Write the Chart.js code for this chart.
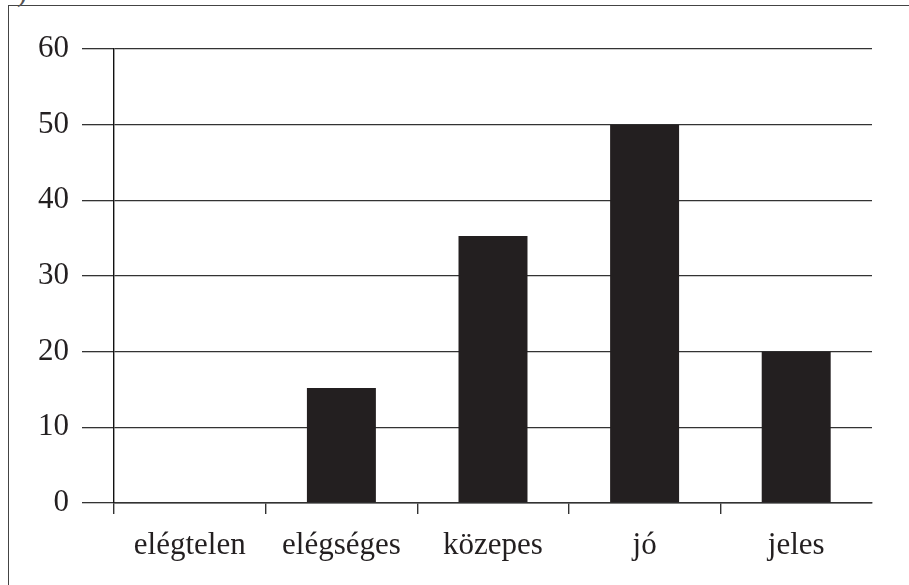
<!DOCTYPE html>
<html lang="hu">

<head>
  <meta charset="UTF-8" />
  <title>Érdemjegyek</title>
  <script src="https://cdn.jsdelivr.net/npm/chart.js"></script>
  <style>
    body {
      margin: 0;
      background: #fff;
    }

    #wrap {
      position: relative;
      width: 909px;
      height: 585px;
      overflow: hidden;
    }

    #frame {
      position: absolute;
      left: 8px;
      top: 5px;
      right: 0;
      bottom: -4px;
      border-top: 1.5px solid #444;
      border-left: 1.5px solid #444;
    }

    #mark {
      position: absolute;
      left: 17px;
      top: -26px;
      font: 30px "Liberation Serif", serif;
      color: #555;
    }

    canvas {
      position: absolute;
      left: 0;
      top: 0;
    }
  </style>
</head>

<body>
  <div id="wrap">
    <div id="frame"></div>
    <span id="mark">)</span>
    <canvas id="chart" width="909" height="585"></canvas>
  </div>

  <script>
    const grades = ["elégtelen", "elégséges", "közepes", "jó", "jeles"];
    const counts = [0, 15.2, 35.3, 50, 20];
    const yTicks = [0, 10, 20, 30, 40, 50, 60];

    const ink = "#231f20";
    const lineColor = "#333";
    const font = { family: "'Liberation Serif', 'Times New Roman', serif", size: 31 };

    const ctx = document.getElementById("chart").getContext("2d");

    new Chart(ctx, {
      type: "bar",
      data: {
        labels: grades,
        datasets: [
          {
            data: counts,
            backgroundColor: ink,
            borderWidth: 0,
            barPercentage: 0.455,
            categoryPercentage: 1,
          },
        ],
      },
      options: {
        animation: false,
        responsive: false,
        devicePixelRatio: 1,
        layout: { padding: { left: 38, top: 49, right: 37, bottom: 0 } },
        plugins: {
          legend: { display: false },
          tooltip: { enabled: false },
        },
        scales: {
          x: {
            afterFit: (scale) => { scale.height = 82; },
            grid: {
              offset: true,
              drawOnChartArea: false,
              tickLength: 11,
              lineWidth: 1.4,
              // no tick mark after the last category
              tickColor: (c) => (c.type === "tick" ? lineColor : "transparent"),
            },
            border: { color: lineColor, width: 1.4 },
            ticks: { color: ink, font, padding: 13, maxRotation: 0 },
          },
          y: {
            min: 0,
            max: 60,
            afterFit: (scale) => { scale.width = 76; },
            afterBuildTicks: (scale) => {
              scale.ticks = yTicks.map((v) => ({ value: v }));
            },
            grid: {
              color: lineColor,
              lineWidth: 1.3,
              tickLength: 32,
            },
            border: { color: "#111", width: 1.4 },
            ticks: { color: ink, font, padding: 13 },
          },
        },
      },
    });
  </script>
</body>

</html>
